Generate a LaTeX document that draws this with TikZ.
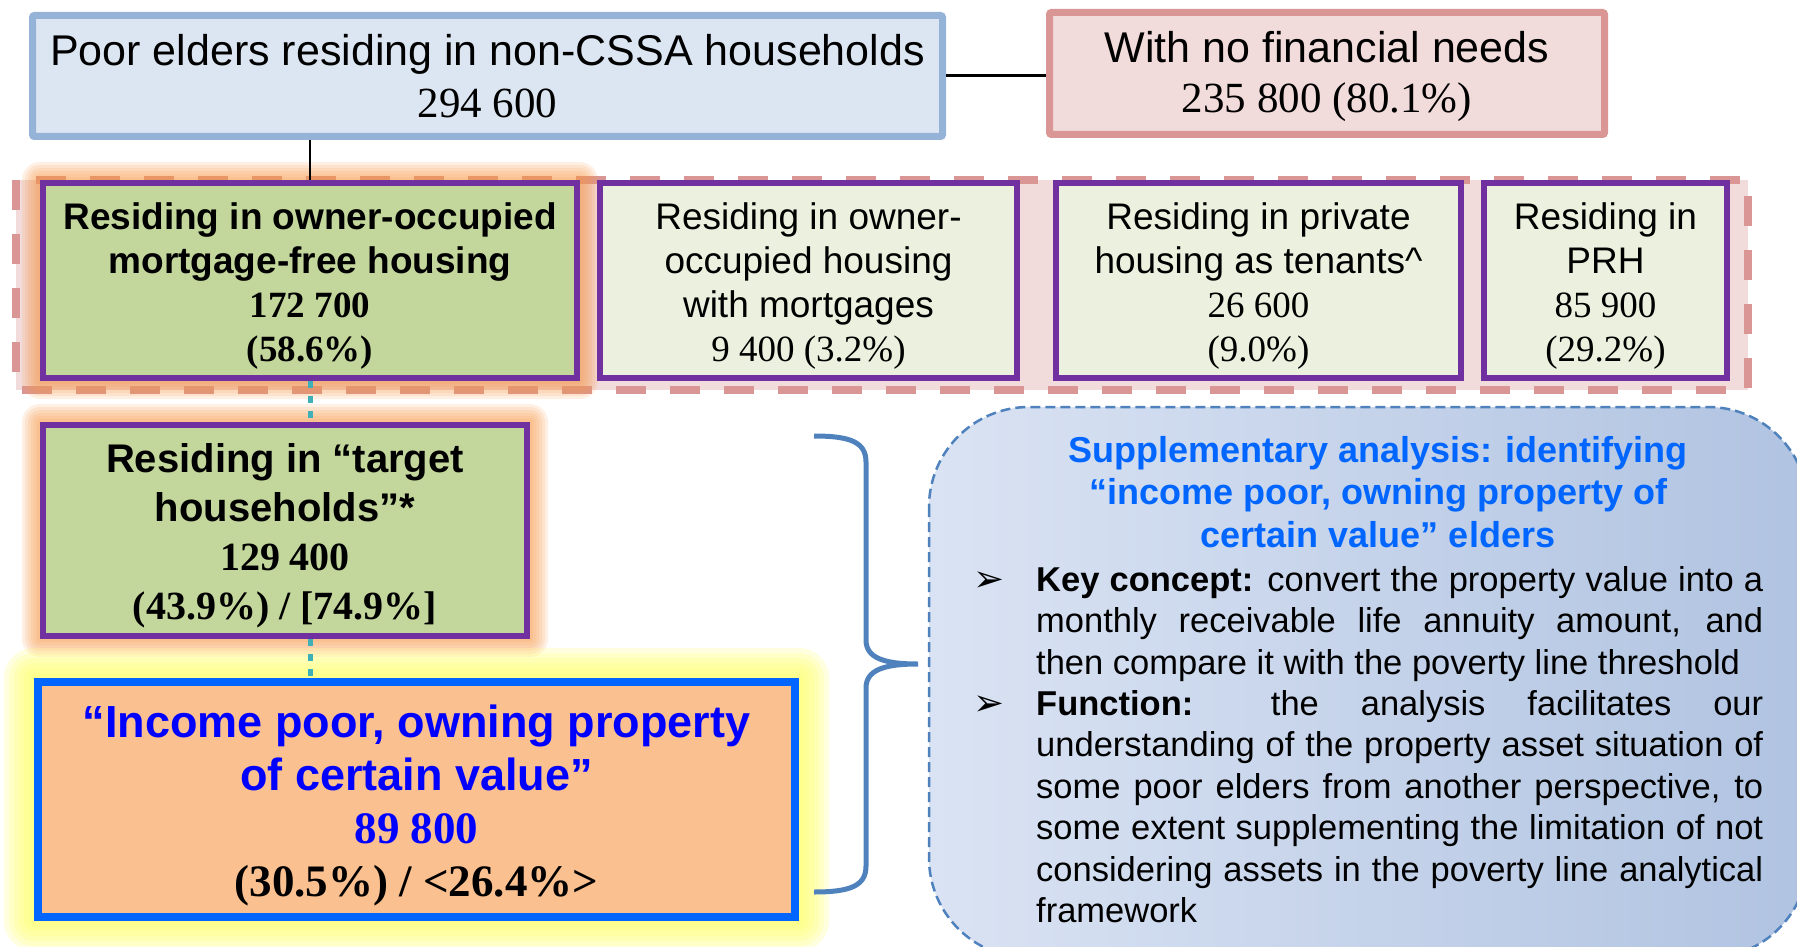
\documentclass[tikz,border=0pt]{standalone}
\usepackage{fontspec}
\setmainfont{Liberation Sans}
\newfontfamily\numfont{Liberation Serif}
\newfontfamily\symfont{DejaVu Sans}
\usetikzlibrary{positioning,calc,backgrounds}

\definecolor{topfill}{HTML}{DCE6F2}
\definecolor{topline}{HTML}{95B3D7}
\definecolor{pinkfill}{HTML}{F2DCDB}
\definecolor{pinkline}{HTML}{D99694}
\definecolor{ownfill}{HTML}{C3D69B}
\definecolor{paleown}{HTML}{EBF1DE}
\definecolor{boxline}{HTML}{7030A0}
\definecolor{peach}{HTML}{FAC090}
\definecolor{glowor}{HTML}{F79646}
\definecolor{glowye}{HTML}{FFFF66}
\definecolor{brightblue}{HTML}{0066FF}
\definecolor{deepblue}{HTML}{0000FF}
\definecolor{bracecol}{HTML}{4F81BD}
\definecolor{dotcol}{HTML}{3FAFB8}
\definecolor{suppA}{HTML}{DAE3F3}
\definecolor{suppB}{HTML}{B0C3E1}

\newcommand\figs[1]{{\numfont #1}}
\newcommand\up[1][1]{\rule{0pt}{#1em}}
\newcommand\arrowbullet{{\symfont\fontsize{37}{37}\selectfont ➢}\hspace{32pt}}

\begin{document}
\begin{tikzpicture}[x=1pt,y=-1pt,inner sep=0pt,
    cell/.style={draw,align=center,font=\fontsize{37}{44}\selectfont},
    topbox/.style={cell,line width=7pt,draw=topline,fill=topfill,rounded corners=2pt,font=\fontsize{43}{52}\selectfont},
    pinkbox/.style={cell,line width=7pt,draw=pinkline,fill=pinkfill,rounded corners=2pt,font=\fontsize{43}{50}\selectfont},
    ownbox/.style={cell,line width=6pt,draw=boxline,fill=ownfill,minimum height=195pt},
    palebox/.style={ownbox,fill=paleown},
    incomebox/.style={cell,line width=8pt,draw=brightblue,fill=peach,text=deepblue,font=\fontsize{45}{53}\selectfont\bfseries},
    link/.style={line width=3pt},
    dotlink/.style={draw=dotcol,line width=5pt,dash pattern=on 7pt off 8pt}]
  \useasboundingbox (0,0) rectangle (1797,947);

  \node[topbox,minimum width=910pt,minimum height=121pt] (poor) at (487.5,76) {Poor elders residing in non-CSSA households\\\figs{294 600}};
  \node[pinkbox,minimum width=555pt,minimum height=122pt] (nofin) at (1327,73.5) {\up[0.86]With no financial needs\\\figs{235 800 (80.1\%)}};

  \node[ownbox,minimum width=534pt,font=\fontsize{37}{44}\selectfont\bfseries] (b1) at (310,280.5) {\up Residing in owner-occupied\\mortgage-free housing\\\figs{172 700}\\\figs{(58.6\%)}};
  \node[palebox,minimum width=417pt,right=17pt of b1] (b2) {\up Residing in owner-\\occupied housing\\with mortgages\\\figs{9 400 (3.2\%)}};
  \node[palebox,minimum width=405pt,right=33pt of b2] (b3) {\up Residing in private\\housing as tenants\textasciicircum\\\figs{26 600}\\\figs{(9.0\%)}};
  \node[palebox,minimum width=243pt,right=17pt of b3] (b4) {\up Residing in\\PRH\\\figs{85 900}\\\figs{(29.2\%)}};

  \node[ownbox,minimum width=484pt,minimum height=211pt,font=\fontsize{40}{49}\selectfont\bfseries] (target) at (285,530.5) {\up Residing in “target\\households”*\\\figs{129 400}\\\figs{(43.9\%) / [74.9\%]}};
  \node[incomebox,minimum width=757pt,minimum height=235pt] (income) at (416.5,799.5) {\up“Income poor, owning property\\of certain value”\\\figs{89 800}\\\figs{\color{black}(30.5\%) / <26.4\%>}};

  \begin{scope}[on background layer]
    \draw[pinkline,fill=pinkfill,line width=8pt,dash pattern=on 30pt off 24pt] (16,180) rectangle (1748,390);
    \foreach \n in {b1,target}
      \foreach \g in {3,6,...,18}
        \fill[glowor,opacity=0.14,rounded corners=\g pt] ($(\n.south west)+(-\g,\g)$) rectangle ($(\n.north east)+(\g,-\g)$);
    \foreach \g in {5,10,...,30}
      \fill[glowye,opacity=0.2,rounded corners=\g pt] ($(income.south west)+(-\g,\g)$) rectangle ($(income.north east)+(\g,-\g)$);
  \end{scope}

  \draw[link] (poor.east) -- (poor.east -| nofin.west);
  \draw[line width=2pt] (b1.north) -- (b1.north |- poor.south);
  \draw[dotlink] (b1.south) -- (b1.south |- target.north);
  \draw[dotlink] (target.south -| b1.south) -- (b1.south |- income.north);

  \draw[bracecol,line width=5pt] (814,436) .. controls (850,436) and (866,442) .. (866,462) -- (866,640)
    .. controls (866,658) and (884,664) .. (918,664) .. controls (884,664) and (866,670) .. (866,688)
    -- (866,866) .. controls (866,886) and (850,892) .. (814,892);

  \draw[draw=bracecol,line width=2.5pt,dash pattern=on 10pt off 5pt,left color=suppA,right color=suppB,rounded corners=100pt] (929,407) rectangle (1808,958);
  \node[font=\fontsize{36}{42.5}\selectfont\bfseries,text=brightblue,align=center] (supptitle) at (1378,492) {Supplementary analysis: identifying\\“income poor, owning property of\\certain value” elders};
  \node[anchor=north west,text width=727pt,align=justify,font=\fontsize{34.5}{41.4}\selectfont] (suppbody) at (1036,566) {\noindent\llap{\arrowbullet}\textbf{Key concept:} convert the property value into a\linebreak monthly receivable life annuity amount, and\linebreak then compare it with the poverty line threshold\par
  \noindent\llap{\arrowbullet}\textbf{Function:} the analysis facilitates our\linebreak understanding of the property asset situation of\linebreak some poor elders from another perspective, to\linebreak some extent supplementing the limitation of not\linebreak considering assets in the poverty line analytical\linebreak framework};
\end{tikzpicture}
\end{document}
